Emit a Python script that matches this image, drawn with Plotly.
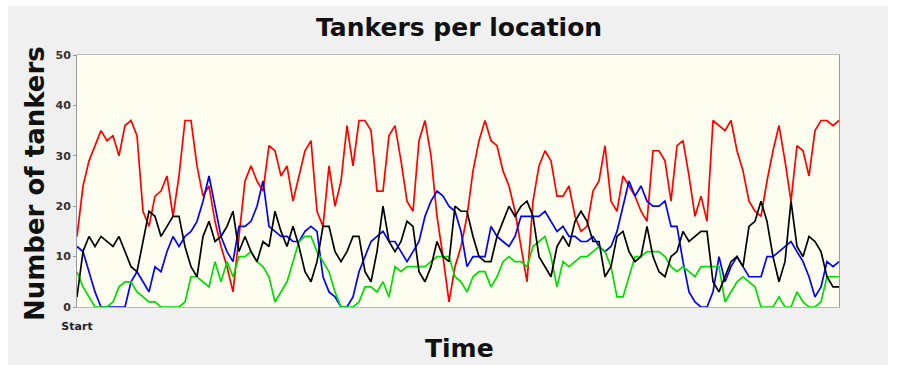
import plotly.graph_objects as go

# Time steps (sampled) and number of tankers at each location
time_steps = list(range(128))

red_counts = [
    14, 24, 29, 32, 35, 33, 34, 30, 36, 37,
    34, 19, 16, 22, 23, 26, 18, 26, 37, 37,
    28, 22, 24, 17, 12, 8, 3, 14, 25, 28,
    25, 23, 32, 31, 26, 28, 21, 26, 31, 33,
    19, 16, 28, 20, 25, 36, 28, 37, 37, 35,
    23, 23, 34, 36, 29, 21, 19, 33, 37, 30,
    18, 10, 1, 8, 12, 18, 27, 33, 37, 33,
    32, 27, 24, 19, 12, 5, 21, 28, 31, 29,
    22, 22, 24, 18, 15, 16, 23, 25, 32, 21,
    19, 26, 24, 22, 19, 17, 31, 31, 29, 21,
    32, 33, 26, 18, 22, 17, 37, 36, 35, 37,
    31, 27, 21, 19, 18, 25, 31, 36, 29, 21,
    32, 31, 26, 35, 37, 37, 36, 37,
]

black_counts = [
    2, 11, 14, 12, 14, 13, 12, 14, 11, 8,
    7, 13, 19, 18, 14, 16, 18, 18, 12, 8,
    6, 14, 17, 13, 14, 16, 19, 11, 14, 11,
    9, 13, 12, 19, 15, 12, 16, 12, 7, 5,
    9, 16, 16, 11, 9, 11, 14, 14, 7, 5,
    11, 20, 13, 11, 13, 17, 16, 7, 5, 8,
    13, 10, 9, 20, 19, 19, 14, 10, 9, 9,
    14, 17, 20, 18, 20, 21, 18, 10, 8, 6,
    12, 14, 12, 17, 19, 17, 13, 13, 6, 8,
    14, 15, 11, 9, 10, 16, 10, 7, 6, 10,
    11, 15, 13, 14, 15, 15, 5, 3, 6, 9,
    10, 8, 16, 17, 21, 17, 10, 5, 9, 21,
    12, 10, 14, 13, 11, 6, 4, 4,
]

blue_counts = [
    12, 11, 7, 3, 0, 0, 0, 0, 0, 5,
    7, 5, 3, 8, 7, 11, 14, 12, 14, 15,
    17, 21, 26, 20, 14, 11, 9, 16, 16, 17,
    20, 25, 16, 15, 14, 14, 13, 13, 15, 16,
    15, 6, 3, 2, 0, 0, 2, 7, 10, 13,
    14, 15, 13, 13, 11, 9, 11, 13, 18, 21,
    23, 22, 20, 19, 15, 8, 10, 10, 10, 16,
    14, 13, 12, 14, 18, 18, 18, 18, 19, 17,
    15, 16, 14, 14, 13, 13, 14, 12, 11, 12,
    15, 20, 25, 22, 24, 21, 20, 20, 21, 16,
    16, 9, 3, 1, 0, 0, 3, 10, 5, 8,
    10, 8, 6, 6, 6, 10, 10, 11, 12, 13,
    11, 9, 6, 2, 4, 9, 8, 9,
]

green_counts = [
    7, 4, 2, 0, 0, 0, 1, 4, 5, 5,
    3, 2, 1, 1, 0, 0, 0, 0, 1, 6,
    6, 5, 4, 9, 5, 9, 6, 10, 10, 11,
    9, 8, 6, 1, 3, 5, 9, 13, 14, 14,
    11, 9, 7, 3, 0, 0, 0, 1, 4, 4,
    3, 5, 2, 8, 7, 8, 8, 8, 8, 9,
    10, 10, 10, 6, 5, 3, 6, 7, 7, 4,
    6, 9, 10, 9, 9, 8, 12, 13, 14, 10,
    4, 9, 8, 9, 10, 10, 11, 12, 11, 8,
    2, 2, 6, 10, 10, 11, 11, 11, 10, 8,
    7, 8, 7, 6, 8, 8, 8, 8, 1, 3,
    5, 6, 5, 4, 0, 0, 0, 2, 0, 0,
    3, 1, 0, 0, 1, 6, 6, 6,
]

y_ticks = [0, 10, 20, 30, 40, 50]
x_tick_labels = ["Start"]

series = [
    (red_counts, "#ff0000"),
    (blue_counts, "#0000ff"),
    (green_counts, "#00dd00"),
    (black_counts, "#000000"),
]

fig = go.Figure()
for values, color in series:
    fig.add_trace(go.Scatter(
        x=time_steps, y=values, mode="lines",
        line=dict(color=color, width=1.7),
        showlegend=False, hoverinfo="skip",
    ))

W, H = 898, 365
L, R, T, B = 77, 59, 55, 58
pw, ph = W - L - R, H - T - B

def px_x(x):
    return (x - L) / pw

def px_y(y):
    return (H - B - y) / ph

font_family = "DejaVu Sans, Verdana, sans-serif"

fig.update_layout(
    width=W, height=H,
    margin=dict(l=L, r=R, t=T, b=B, pad=0),
    paper_bgcolor="#f0f0f0",
    plot_bgcolor="#fefef0",
    font=dict(family=font_family, color="#222222"),
    xaxis=dict(
        range=[0, len(time_steps) - 1],
        tickvals=[0], ticktext=x_tick_labels,
        tickfont=dict(size=11, color="#222222", family=font_family, weight="bold"),
        showgrid=False, zeroline=False,
        showline=True, linecolor="#b8b8b8", linewidth=1, mirror=True,
        ticks="outside", ticklen=9, tickcolor="rgba(0,0,0,0)",
        fixedrange=True,
    ),
    yaxis=dict(
        range=[0, 50],
        tickvals=y_ticks,
        tickfont=dict(size=11, color="#333333", family=font_family, weight="bold"),
        showgrid=False, zeroline=False,
        showline=True, linecolor="#9a9a9a", linewidth=1, mirror=True,
        ticks="outside", ticklen=3, tickcolor="#9a9a9a",
        fixedrange=True,
    ),
    shapes=[
        # white page border around the grey panel
        dict(type="rect", xref="paper", yref="paper",
             x0=px_x(0), x1=px_x(8), y0=px_y(H), y1=px_y(0),
             fillcolor="#ffffff", line=dict(width=0), layer="below"),
        dict(type="rect", xref="paper", yref="paper",
             x0=px_x(888), x1=px_x(W), y0=px_y(H), y1=px_y(0),
             fillcolor="#ffffff", line=dict(width=0), layer="below"),
        dict(type="rect", xref="paper", yref="paper",
             x0=px_x(0), x1=px_x(W), y0=px_y(6), y1=px_y(0),
             fillcolor="#ffffff", line=dict(width=0), layer="below"),
    ],
    annotations=[
        dict(text="<b>Tankers per location</b>", xref="paper", yref="paper",
             x=px_x(459), y=px_y(28), xanchor="center", yanchor="middle",
             showarrow=False, font=dict(size=25, color="#111111", family=font_family)),
        dict(text="<b>Number of tankers</b>", xref="paper", yref="paper",
             x=px_x(35), y=px_y(184), xanchor="center", yanchor="middle",
             textangle=-90, showarrow=False,
             font=dict(size=26, color="#111111", family=font_family)),
        dict(text="<b>Time</b>", xref="paper", yref="paper",
             x=px_x(459), y=px_y(348), xanchor="center", yanchor="middle",
             showarrow=False, font=dict(size=25, color="#111111", family=font_family)),
    ],
)

fig.write_html("out.html")
